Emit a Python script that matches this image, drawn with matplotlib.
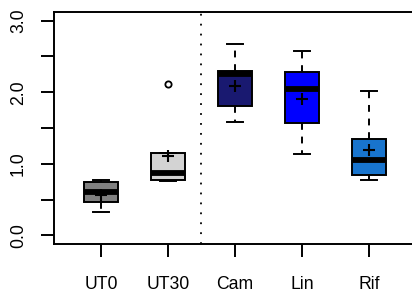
import matplotlib
matplotlib.use("Agg")
import matplotlib.pyplot as plt

plt.rcParams['font.family'] = ['Liberation Sans', 'DejaVu Sans']

categories = ["UT0", "UT30", "Cam", "Lin", "Rif"]
q1 = [0.46, 0.77, 1.81, 1.57, 0.84]
med = [0.60, 0.87, 2.26, 2.05, 1.05]
q3 = [0.74, 1.15, 2.29, 2.28, 1.35]
whislo = [0.32, 0.76, 1.58, 1.13, 0.78]
whishi = [0.77, 1.15, 2.67, 2.57, 2.01]
means = [0.57, 1.11, 2.09, 1.90, 1.19]
fliers = [[], [2.11], [], [], []]
colors = ["#808080", "#d3d3d3", "#191970", "#0000ff", "#1874cd"]
yticks = [0.0, 0.5, 1.0, 1.5, 2.0, 2.5, 3.0]
yticklabels = ["0.0", "", "1.0", "", "2.0", "", "3.0"]

fig = plt.figure(figsize=(4.12, 2.93), dpi=100)
ax = fig.add_axes([54/412, 1-244/293, 362/412, 232/293])

stats = []
for i, c in enumerate(categories):
    stats.append(dict(label=c, q1=q1[i], med=med[i], q3=q3[i],
                      whislo=whislo[i], whishi=whishi[i],
                      fliers=fliers[i], mean=means[i]))

lw = 1.4
bp = ax.bxp(stats, positions=range(1, 6), widths=0.5, capwidths=0.25,
            patch_artist=True, showmeans=True,
            boxprops=dict(linewidth=lw, edgecolor='black'),
            medianprops=dict(color='black', linewidth=4.2, solid_capstyle='butt'),
            whiskerprops=dict(color='black', linewidth=lw, linestyle=(0, (3.5, 3.5))),
            capprops=dict(color='black', linewidth=lw),
            flierprops=dict(marker='o', markerfacecolor='none', markeredgecolor='black',
                            markersize=4.5, markeredgewidth=1.3),
            meanprops=dict(marker='+', markeredgecolor='black', markersize=9,
                           markeredgewidth=1.5))
for patch, col in zip(bp['boxes'], colors):
    patch.set_facecolor(col)

ax.axvline(2.5, color='black', linewidth=1.3, linestyle=(0, (1, 4.5)))

ax.set_xlim(0.3, 5.7)
ax.set_ylim(-0.12, 3.12)
ax.set_xticks(range(1, 6))
ax.set_xticklabels(categories, fontsize=12.7)
ax.set_yticks(yticks)
ax.set_yticklabels(yticklabels, fontsize=12.7, rotation=90, va='center')
ax.tick_params(axis='both', length=9.5, width=lw, direction='out')
ax.tick_params(axis='x', pad=13.5)
ax.tick_params(axis='y', pad=10)
for s in ax.spines.values():
    s.set_linewidth(lw)
ax.spines['right'].set_visible(False)

fig.savefig("out.png", dpi=100)
